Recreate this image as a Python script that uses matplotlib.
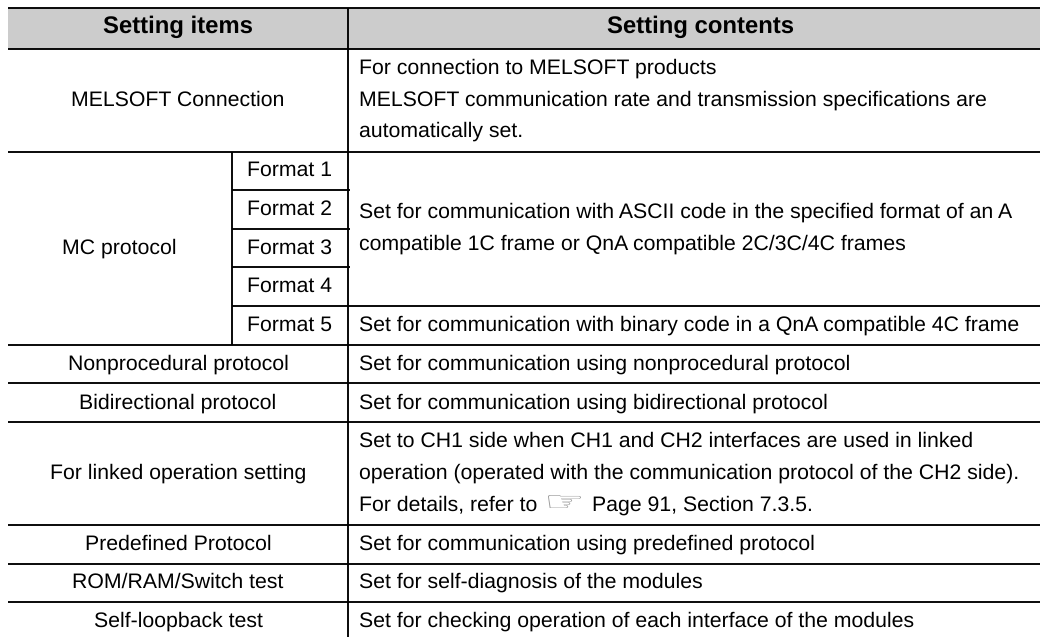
import matplotlib
matplotlib.use('Agg')
import matplotlib.pyplot as plt
from matplotlib.font_manager import FontProperties
from matplotlib.patches import PathPatch
from matplotlib.textpath import TextPath
from matplotlib.transforms import Affine2D

plt.rcParams['font.family'] = ['Liberation Sans', 'DejaVu Sans']
plt.rcParams['text.hinting'] = 'no_hinting'

header_items = 'Setting items'
header_contents = 'Setting contents'

left_labels = ['MELSOFT Connection', 'MC protocol', 'Nonprocedural protocol', 'Bidirectional protocol',
               'For linked operation setting', 'Predefined Protocol', 'ROM/RAM/Switch test', 'Self-loopback test']
formats = ['Format 1', 'Format 2', 'Format 3', 'Format 4', 'Format 5']
contents = [
    ['For connection to MELSOFT products',
     'MELSOFT communication rate and transmission specifications are',
     'automatically set.'],
    ['Set for communication with ASCII code in the specified format of an A',
     'compatible 1C frame or QnA compatible 2C/3C/4C frames'],
    ['Set for communication with binary code in a QnA compatible 4C frame'],
    ['Set for communication using nonprocedural protocol'],
    ['Set for communication using bidirectional protocol'],
    ['Set to CH1 side when CH1 and CH2 interfaces are used in linked',
     'operation (operated with the communication protocol of the CH2 side).',
     'For details, refer to'],
    ['Set for communication using predefined protocol'],
    ['Set for self-diagnosis of the modules'],
    ['Set for checking operation of each interface of the modules'],
]
page_ref = 'Page 91, Section 7.3.5.'

# layout, in pixels of the page
x_left, x_fmt, x_mid, x_right = 8, 232, 348, 1040
y_top, y_head, y_bottom = 8, 49, 637
full_rules = [49, 151.5, 344.5, 383, 421.5, 524.5, 563.5, 602]
fmt_rules = [190, 228.5, 267]
mid_rule = 305.5
left_base = [105.7, 254, 370, 408.5, 479, 550, 587.7, 626.7]
fmt_base = [176, 215, 253.5, 292, 331]
content_base = [[74, 105.7, 137], [218, 250], [331], [370], [408.5], [446.7, 479, 510.7], [550], [587.7], [626.7]]
fs = 15.35
fs_head = 17.2
ink = 'black'

fig = plt.figure(figsize=(10.4, 6.37), dpi=100)
ax = fig.add_axes([0, 0, 1, 1])
ax.set_xlim(0, 1040)
ax.set_ylim(637, 0)
ax.axis('off')

ax.fill_between([x_left, x_right], y_top, y_head, color='#cccccc', lw=0)

lw = 1.35
ax.hlines([y_top] + full_rules, x_left, x_right, color='black', lw=lw)
ax.hlines(fmt_rules, x_fmt, x_mid + 2, color='black', lw=lw)
ax.hlines(mid_rule, x_fmt, x_right, color='black', lw=lw)
ax.vlines(x_mid, y_top, y_bottom, color='black', lw=lw)
ax.vlines(x_fmt, full_rules[1], full_rules[2], color='black', lw=lw)

ax.text(178, 33, header_items, ha='center', va='baseline', fontsize=fs_head, fontweight='bold', color=ink)
ax.text(701, 33, header_contents, ha='center', va='baseline', fontsize=fs_head, fontweight='bold', color=ink)

for i, label in enumerate(left_labels):
    x = 119.5 if label == 'MC protocol' else 178
    ax.text(x, left_base[i], label, ha='center', va='baseline', fontsize=fs, color=ink)

for label, y in zip(formats, fmt_base):
    ax.text(289.5, y, label, ha='center', va='baseline', fontsize=fs, color=ink)

for lines, bases in zip(contents, content_base):
    for line, y in zip(lines, bases):
        ax.text(359, y, line, ha='left', va='baseline', fontsize=fs, color=ink)

# pointing hand mark, stretched to the wide shape it has on the page
hand = TextPath((0, 0), '\u261e', size=1, prop=FontProperties(family='DejaVu Sans'))
box = hand.get_extents()
fit = (Affine2D().translate(-box.x0, -box.y0).scale(33 / box.width, -13 / box.height).translate(548, 508))
ax.add_patch(PathPatch(fit.transform_path(hand), facecolor='#999999', edgecolor='none'))
ax.text(592, 510.7, page_ref, ha='left', va='baseline', fontsize=fs, color=ink)

fig.savefig('out.png', dpi=100)
